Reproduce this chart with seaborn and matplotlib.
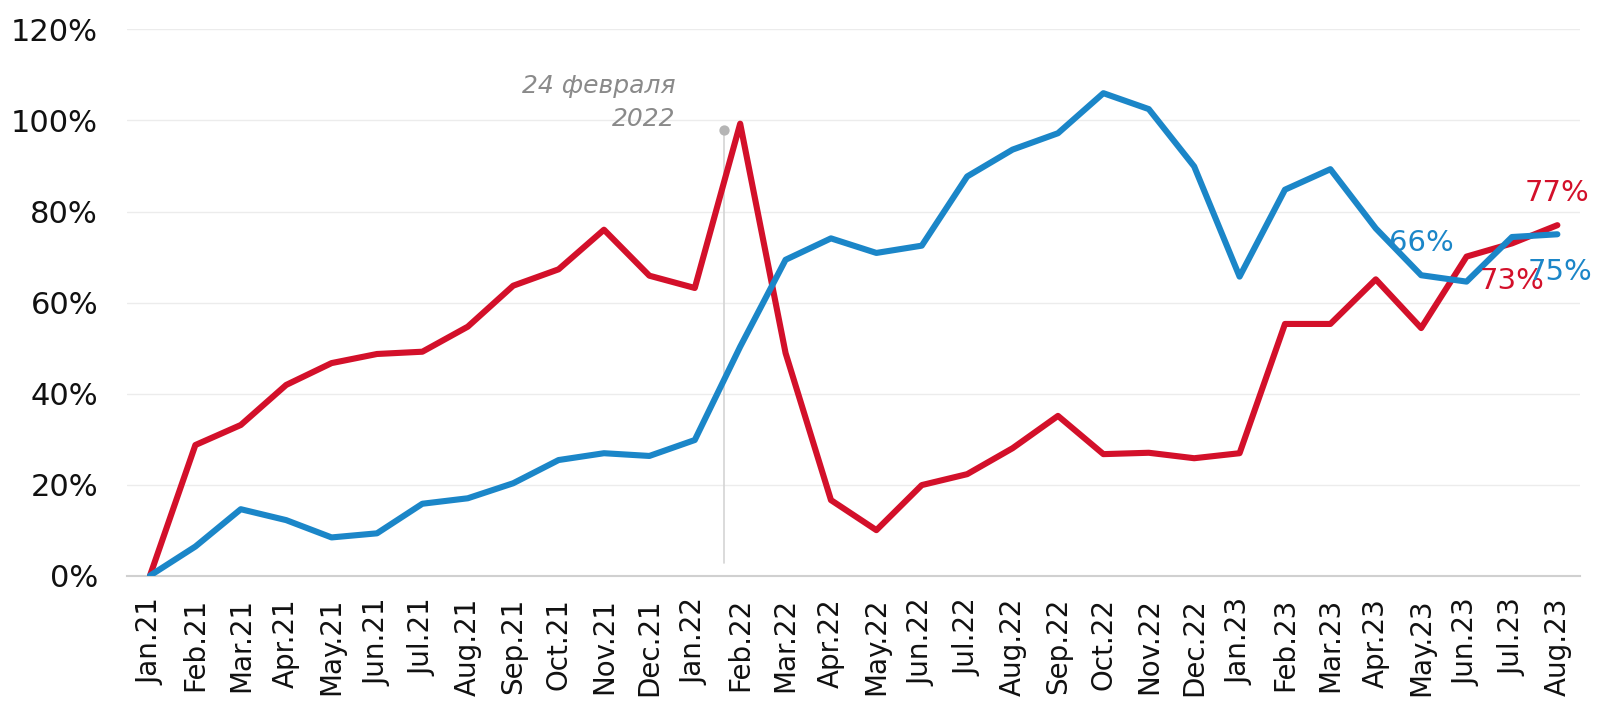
import numpy as np
import pandas as pd
import matplotlib
matplotlib.use("Agg")
import matplotlib.pyplot as plt
import seaborn as sns
from matplotlib.ticker import FuncFormatter

months = ["Jan.21", "Feb.21", "Mar.21", "Apr.21", "May.21", "Jun.21", "Jul.21", "Aug.21",
          "Sep.21", "Oct.21", "Nov.21", "Dec.21", "Jan.22", "Feb.22", "Mar.22", "Apr.22",
          "May.22", "Jun.22", "Jul.22", "Aug.22", "Sep.22", "Oct.22", "Nov.22", "Dec.22",
          "Jan.23", "Feb.23", "Mar.23", "Apr.23", "May.23", "Jun.23", "Jul.23", "Aug.23"]

red_values = [0.0, 28.7, 33.1, 41.9, 46.7, 48.7, 49.2, 54.7,
              63.7, 67.3, 76.0, 65.9, 63.2, 99.3, 48.9, 16.6,
              10.0, 19.9, 22.3, 28.0, 35.1, 26.7, 27.0, 25.8,
              26.9, 55.3, 55.3, 65.1, 54.4, 70.1, 73.0, 77.0]

blue_values = [0.0, 6.4, 14.6, 12.2, 8.4, 9.3, 15.8, 17.0,
               20.3, 25.4, 26.9, 26.3, 29.8, 50.3, 69.4, 74.1,
               70.9, 72.5, 87.7, 93.6, 97.2, 106.0, 102.5, 89.9,
               65.7, 84.8, 89.3, 76.3, 66.0, 64.6, 74.4, 75.0]

y_ticks = [0, 20, 40, 60, 80, 100, 120]
event_label = "24 февраля\n2022"
event_pos = 12.65
event_top = 97.9
event_bottom = 2.8

RED = "#D3102A"
BLUE = "#1B86C8"

df = pd.DataFrame({
    "idx": list(range(len(months))) * 2,
    "value": red_values + blue_values,
    "series": ["red"] * len(months) + ["blue"] * len(months),
})

sns.set_theme(style="white")
plt.rcParams["font.family"] = ["DejaVu Sans"]

fig = plt.figure(figsize=(15.97, 7.01), dpi=100)
ax = fig.add_axes([0.0797, 0.1788, 0.9097, 0.7792])

for y in y_ticks[1:]:
    ax.axhline(y, color="#ececec", lw=1.0, zorder=0)

# event line
ax.plot([event_pos, event_pos], [event_bottom, event_top], color="#d4d4d4", lw=1.2, zorder=1)
ax.scatter([event_pos], [event_top], s=55, color="#b5b5b5", zorder=2, linewidths=0)
ax.text(event_pos - 1.08, 97.6, event_label, ha="right", va="bottom", fontsize=18,
        style="italic", color="#8a8a8a", linespacing=1.5)

sns.lineplot(data=df, x="idx", y="value", hue="series", hue_order=["red", "blue"],
             palette={"red": RED, "blue": BLUE}, linewidth=4.4, legend=False, ax=ax,
             zorder=3)

# value labels
ax.text(31.0, 84.0, "77%", color=RED, fontsize=21, ha="center", va="center", zorder=5)
ax.text(30.0, 64.8, "73%", color=RED, fontsize=21, ha="center", va="center", zorder=5)
ax.text(28.0, 73.0, "66%", color=BLUE, fontsize=21, ha="center", va="center", zorder=5)
ax.text(31.05, 66.7, "75%", color=BLUE, fontsize=21, ha="center", va="center", zorder=5)

ax.set_xlim(-0.5, len(months) - 0.5)
ax.set_ylim(0, 120)
ax.set_yticks(y_ticks)
ax.yaxis.set_major_formatter(FuncFormatter(lambda v, p: f"{int(v)}%"))
ax.set_xticks(range(len(months)))
ax.set_xticklabels(months, rotation=90)
ax.tick_params(axis="both", length=0, colors="#111111")
ax.tick_params(axis="y", pad=21, labelsize=22)
ax.tick_params(axis="x", pad=16, labelsize=20)
ax.set_xlabel("")
ax.set_ylabel("")
for s in ["left", "right", "top"]:
    ax.spines[s].set_visible(False)
ax.spines["bottom"].set_color("#d0d0d0")
ax.spines["bottom"].set_linewidth(1.5)
ax.grid(False)

fig.savefig("out.png", dpi=100, facecolor="white")
